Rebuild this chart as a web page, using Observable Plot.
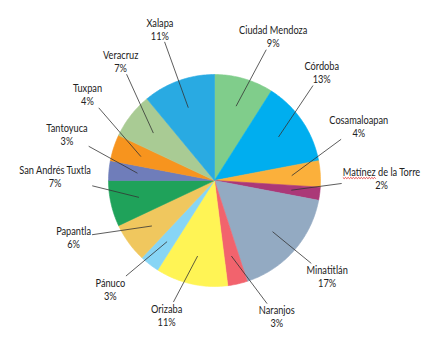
<!DOCTYPE html>
<html>
<head>
<meta charset="utf-8">
<script src="https://cdn.jsdelivr.net/npm/d3@7"></script>
<script src="https://cdn.jsdelivr.net/npm/@observablehq/plot@0.6"></script>
<style>
  html, body { margin: 0; padding: 0; background: #fff; }
  #chart svg { display: block; }
</style>
</head>
<body>
<div id="chart"></div>
<script>
// Share of each city (percent), clockwise from 12 o'clock
const cities = ["Ciudad Mendoza", "Córdoba", "Cosamaloapan", "Matínez de la Torre", "Minatitlán",
  "Naranjos", "Orizaba", "Pánuco", "Papantla", "San Andrés Tuxtla", "Tantoyuca", "Tuxpan",
  "Veracruz", "Xalapa"];
const shares = [9, 13, 4, 2, 17, 3, 11, 3, 6, 7, 3, 4, 7, 11];
const palette = ["#80cd8b", "#00aeef", "#fbb03b", "#ab3878", "#93aac2", "#f2636d", "#fff455",
  "#87d5f5", "#f0c75e", "#1fa25a", "#6f7dba", "#f7941e", "#a9cb94", "#29aae2"];
// label placement tweaks: angular nudge (degrees) and radial push (pixels)
const labelNudge = [6, -11, -17, -8, -1, -12, 7, 6, 14, 14, 12, 16, 14, 0];
const labelPush = [0, 0, -9, -3, -7, 0, -5, 0, 0, -8, 0, 3, 0, 14];

const W = 436, H = 348;
const cx = 214, cy = 180, R = 106;          // pie centre and radius in pixels
const family = "Lato, 'DejaVu Sans Condensed', sans-serif";
const fontSize = 10.5;
const squeeze = 0.88;                       // horizontal condensing of label text
const lineH = 13;

const total = d3.sum(shares);
const rad = d => d * Math.PI / 180;
const pt = (deg, rho) => ({x: Math.sin(rad(deg)) * rho, y: Math.cos(rad(deg)) * rho});

// measure label widths
const ctx = document.createElement("canvas").getContext("2d");
ctx.font = `${fontSize}px ${family}`;
const textW = s => ctx.measureText(s).width * squeeze;

const slices = [];
const labels = [];
const leaders = [];
let acc = 0;
cities.forEach((name, i) => {
  const a0 = acc / total * 360;
  acc += shares[i];
  const a1 = acc / total * 360;
  // slice outline: centre, arc, back to centre
  slices.push({name, ...pt(0, 0)});
  const steps = Math.max(2, Math.ceil(a1 - a0));
  for (let k = 0; k <= steps; ++k) slices.push({name, ...pt(a0 + (a1 - a0) * k / steps, 1)});
  slices.push({name, ...pt(0, 0)});

  const mid = (a0 + a1) / 2;
  const text = `${name}\n${shares[i]}%`;
  const hw = Math.max(textW(name), textW(shares[i] + "%")) / 2 + 1;
  const hh = lineH;
  const th = mid + labelNudge[i];
  const s = Math.sin(rad(th)), c = Math.cos(rad(th));
  const dist = 130 + labelPush[i] + Math.abs(s) * hw + Math.abs(c) * hh;   // pixels
  const lx = s * dist, ly = c * dist;                                      // label centre (px, y up)
  labels.push({text, x: lx / R, y: ly / R});

  // leader line from inside the slice to the edge of the label box
  const inner = pt(mid, 0.73 * R);
  const dx = lx - inner.x, dy = ly - inner.y;
  const t = Math.min(hw / Math.abs(dx || 1e-9), hh / Math.abs(dy || 1e-9));
  leaders.push({x1: inner.x / R, y1: inner.y / R, x2: (lx - dx * t) / R, y2: (ly - dy * t) / R});
});

const chart = Plot.plot({
  width: W,
  height: H,
  margin: 0,
  x: {domain: [-cx / R, (W - cx) / R], axis: null},
  y: {domain: [-(H - cy) / R, cy / R], axis: null},
  color: {domain: cities, range: palette},
  style: {fontFamily: family, fontSize: `${fontSize}px`, background: "#fff"},
  marks: [
    Plot.line(slices, {x: "x", y: "y", z: "name", fill: "name", stroke: "name", strokeWidth: 0.6, curve: "linear"}),
    Plot.link(leaders, {x1: "x1", y1: "y1", x2: "x2", y2: "y2", stroke: "#333", strokeWidth: 0.8}),
    Plot.text(labels, {x: "x", y: "y", text: "text", fill: "#222", fontSize, lineHeight: lineH / fontSize,
      fontFamily: family, className: "pie-label"})
  ]
});

document.getElementById("chart").appendChild(chart);

// condense the label text horizontally around its anchor
for (const t of chart.querySelectorAll(".pie-label text")) {
  t.setAttribute("transform", `${t.getAttribute("transform") || ""} scale(${squeeze},1)`);
}

// red spell-check squiggle under the misspelt word
for (const t of chart.querySelectorAll(".pie-label text")) {
  if (!t.textContent.startsWith("Matínez")) continue;
  const first = t.getExtentOfChar(0), last = t.getExtentOfChar(6);
  const x0 = first.x, x1 = last.x + last.width, y = first.y + first.height - 0.5;
  let d = `M${x0},${y}`;
  for (let x = x0, k = 0; x < x1; x += 1.5, ++k) d += `L${Math.min(x + 1.5, x1)},${y + (k % 2 ? 0 : 1.2)}`;
  const path = document.createElementNS("http://www.w3.org/2000/svg", "path");
  path.setAttribute("d", d);
  path.setAttribute("fill", "none");
  path.setAttribute("stroke", "#e01010");
  path.setAttribute("stroke-width", "0.8");
  path.setAttribute("transform", t.getAttribute("transform"));
  t.parentNode.appendChild(path);
}
</script>
</body>
</html>
